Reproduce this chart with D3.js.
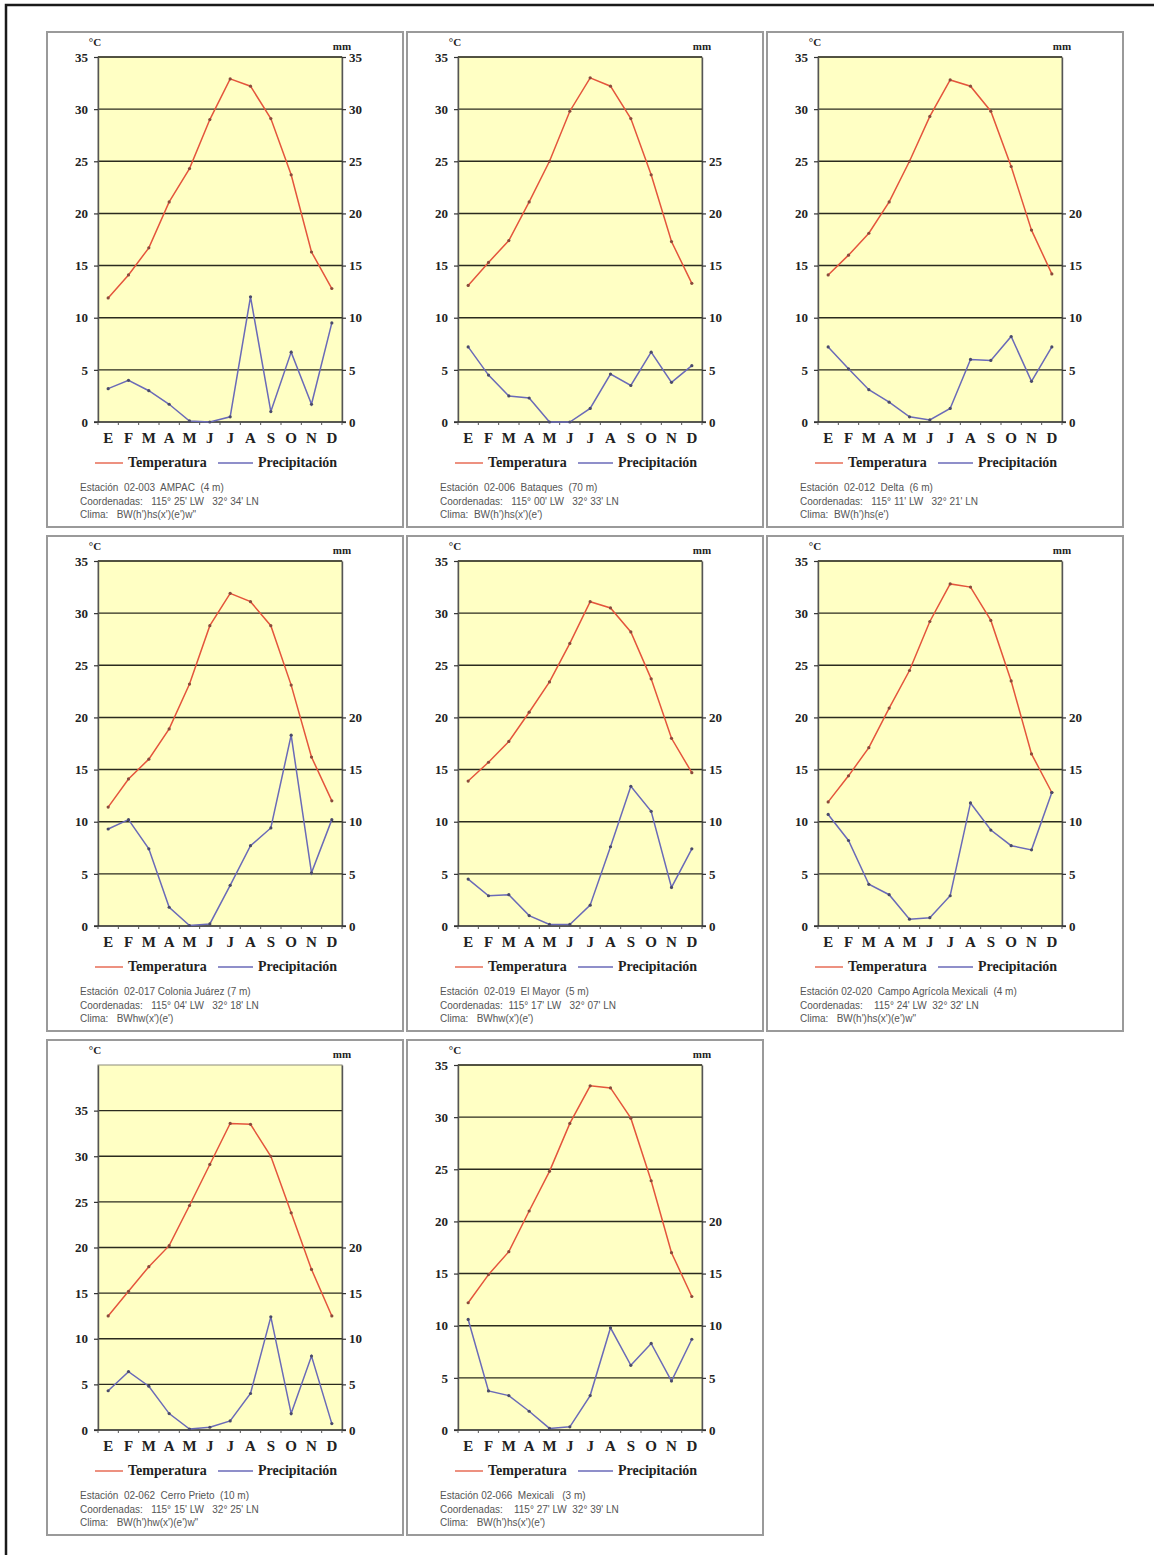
<!DOCTYPE html>
<html lang="es">
<head>
<meta charset="utf-8">
<title>Climogramas — estaciones del Valle de Mexicali</title>
<script src="https://cdn.jsdelivr.net/npm/d3@7"></script>
<style>
  html, body { margin: 0; padding: 0; background: #fff; }
  svg { display: block; }
  .num { font-family: "Liberation Serif", "DejaVu Serif", serif; font-weight: bold; font-size: 13px; fill: #222; }
  .month { font-family: "Liberation Serif", "DejaVu Serif", serif; font-weight: bold; font-size: 15px; fill: #222; }
  .legend { font-family: "Liberation Serif", "DejaVu Serif", serif; font-weight: bold; font-size: 14px; fill: #222; }
  .info { font-family: "Liberation Sans", Arial, sans-serif; font-size: 10px; fill: #555; white-space: pre; }
  .unit { font-family: "Liberation Serif", "DejaVu Serif", serif; font-weight: bold; font-size: 11px; fill: #222; }
</style>
</head>
<body>
<div id="chart"></div>
<script>
// Meses (abreviatura en español)
const months = ["E", "F", "M", "A", "M", "J", "J", "A", "S", "O", "N", "D"];

// Temperatura media mensual (°C)
const tempAmpac    = [11.9, 14.1, 16.7, 21.1, 24.3, 29.0, 32.9, 32.2, 29.1, 23.7, 16.3, 12.8];
const tempBataques = [13.1, 15.3, 17.4, 21.1, 25.0, 29.8, 33.0, 32.2, 29.1, 23.7, 17.3, 13.3];
const tempDelta    = [14.1, 16.0, 18.1, 21.1, 25.0, 29.3, 32.8, 32.2, 29.8, 24.5, 18.4, 14.2];
const tempColonia  = [11.4, 14.1, 16.0, 18.9, 23.2, 28.8, 31.9, 31.1, 28.8, 23.1, 16.2, 12.0];
const tempMayor    = [13.9, 15.7, 17.7, 20.5, 23.4, 27.1, 31.1, 30.5, 28.2, 23.7, 18.0, 14.7];
const tempCampo    = [11.9, 14.4, 17.1, 20.9, 24.5, 29.2, 32.8, 32.5, 29.3, 23.5, 16.5, 12.8];
const tempCerro    = [12.5, 15.2, 17.9, 20.2, 24.6, 29.1, 33.6, 33.5, 30.0, 23.8, 17.6, 12.5];
const tempMexicali = [12.2, 14.9, 17.1, 21.0, 24.8, 29.4, 33.0, 32.8, 29.9, 23.9, 17.0, 12.8];

// Precipitación media mensual (mm)
const precAmpac    = [3.2, 4.0, 3.0, 1.7, 0.1, 0.0, 0.5, 12.0, 1.0, 6.7, 1.7, 9.5];
const precBataques = [7.2, 4.5, 2.5, 2.3, 0.0, 0.0, 1.3, 4.6, 3.5, 6.7, 3.8, 5.4];
const precDelta    = [7.2, 5.1, 3.1, 1.9, 0.5, 0.2, 1.3, 6.0, 5.9, 8.2, 3.9, 7.2];
const precColonia  = [9.3, 10.2, 7.4, 1.8, 0.05, 0.2, 3.9, 7.7, 9.4, 18.3, 5.1, 10.2];
const precMayor    = [4.5, 2.9, 3.0, 1.0, 0.15, 0.15, 2.0, 7.6, 13.4, 11.0, 3.7, 7.4];
const precCampo    = [10.7, 8.2, 4.0, 3.0, 0.65, 0.8, 2.9, 11.8, 9.2, 7.7, 7.3, 12.8];
const precCerro    = [4.3, 6.4, 4.8, 1.8, 0.1, 0.3, 1.0, 4.0, 12.4, 1.8, 8.1, 0.7];
const precMexicali = [10.6, 3.75, 3.3, 1.8, 0.15, 0.3, 3.3, 9.8, 6.2, 8.3, 4.7, 8.7];

// Etiquetas de los ejes
const leftTicks   = [0, 5, 10, 15, 20, 25, 30, 35];
const rightAll    = [0, 5, 10, 15, 20, 25, 30, 35];
const rightTo25   = [0, 5, 10, 15, 20, 25];
const rightTo20   = [0, 5, 10, 15, 20];

// Descripción de cada estación
const stationLines = [
  ["Estación  02-003  AMPAC  (4 m)", "Coordenadas:   115° 25' LW   32° 34' LN", "Clima:   BW(h')hs(x')(e')w\""],
  ["Estación  02-006  Bataques  (70 m)", "Coordenadas:   115° 00' LW   32° 33' LN", "Clima:  BW(h')hs(x')(e')"],
  ["Estación  02-012  Delta  (6 m)", "Coordenadas:   115° 11' LW   32° 21' LN", "Clima:  BW(h')hs(e')"],
  ["Estación  02-017 Colonia Juárez (7 m)", "Coordenadas:   115° 04' LW   32° 18' LN", "Clima:   BWhw(x')(e')"],
  ["Estación  02-019  El Mayor  (5 m)", "Coordenadas:  115° 17' LW   32° 07' LN", "Clima:   BWhw(x')(e')"],
  ["Estación 02-020  Campo Agrícola Mexicali  (4 m)", "Coordenadas:    115° 24' LW  32° 32' LN", "Clima:   BW(h')hs(x')(e')w\""],
  ["Estación  02-062  Cerro Prieto  (10 m)", "Coordenadas:   115° 15' LW   32° 25' LN", "Clima:   BW(h')hw(x')(e')w\""],
  ["Estación 02-066  Mexicali   (3 m)", "Coordenadas:    115° 27' LW  32° 39' LN", "Clima:   BW(h')hs(x')(e')"]
];

const temps   = [tempAmpac, tempBataques, tempDelta, tempColonia, tempMayor, tempCampo, tempCerro, tempMexicali];
const precs   = [precAmpac, precBataques, precDelta, precColonia, precMayor, precCampo, precCerro, precMexicali];
const rights  = [rightAll, rightTo25, rightTo20, rightTo20, rightTo20, rightTo20, rightTo20, rightTo20];
const yMaxes  = [35, 35, 35, 35, 35, 35, 40, 35];

// ---- Layout ----
const W = 1154, H = 1555;
const colX = [47, 407, 767];
const rowY = [32, 536, 1040];
const frameW = 356, frameH = 495;
const plot = { x: 51, y: 25, w: 244, h: 365 };

const TEMP_COLOR = "#e4553c";
const PREC_COLOR = "#6a6ab8";

const svg = d3.select("#chart").append("svg")
  .attr("width", W).attr("height", H);

// page border (top and left)
svg.append("path")
  .attr("d", `M6,${H} V5 H${W}`)
  .attr("fill", "none").attr("stroke", "#1a1a1a").attr("stroke-width", 2.5);

const x = d3.scaleBand().domain(d3.range(12)).range([0, plot.w]);

temps.forEach((temp, i) => {
  const prec = precs[i];
  const gx = colX[i % 3], gy = rowY[Math.floor(i / 3)];
  const g = svg.append("g").attr("transform", `translate(${gx},${gy})`);

  // panel frame
  g.append("rect")
    .attr("x", 0).attr("y", 0).attr("width", frameW).attr("height", frameH)
    .attr("fill", "#fff").attr("stroke", "#9a9a9a").attr("stroke-width", 2);

  const p = g.append("g").attr("transform", `translate(${plot.x},${plot.y})`);
  const y = d3.scaleLinear().domain([0, yMaxes[i]]).range([plot.h, 0]);

  // plot area
  p.append("rect")
    .attr("width", plot.w).attr("height", plot.h)
    .attr("fill", "#ffffc4").attr("stroke", "#8c8c7a").attr("stroke-width", 1);

  // horizontal gridlines
  p.selectAll("line.grid").data(leftTicks.filter(v => v > 0)).join("line")
    .attr("class", "grid")
    .attr("x1", 0).attr("x2", plot.w)
    .attr("y1", d => y(d)).attr("y2", d => y(d))
    .attr("stroke", "#2b2b1e").attr("stroke-width", 1.4);

  // left axis (°C)
  const la = p.append("g").call(d3.axisLeft(y).tickValues(leftTicks).tickSize(4).tickSizeOuter(0).tickFormat(d3.format("d")));
  la.select(".domain").attr("stroke", "#555").attr("stroke-width", 1.4);
  la.selectAll(".tick line").attr("stroke", "#333").attr("stroke-width", 1.2);
  la.selectAll(".tick text").attr("class", "num").attr("x", -10).attr("font-family", null).attr("font-size", null);

  // right axis (mm) — same scale, fewer labels
  const ra = p.append("g").attr("transform", `translate(${plot.w},0)`)
    .call(d3.axisRight(y).tickValues(rights[i]).tickSize(4).tickSizeOuter(0).tickFormat(d3.format("d")));
  ra.select(".domain").attr("stroke", "#555").attr("stroke-width", 1.4);
  ra.selectAll(".tick line").attr("stroke", "#333").attr("stroke-width", 1.2);
  ra.selectAll(".tick text").attr("class", "num").attr("x", 7).attr("font-family", null).attr("font-size", null);

  // baseline with category ticks
  p.append("line")
    .attr("x1", -4).attr("x2", plot.w + 4)
    .attr("y1", plot.h).attr("y2", plot.h)
    .attr("stroke", "#333").attr("stroke-width", 1.6);
  p.selectAll("line.xt").data(d3.range(13)).join("line")
    .attr("class", "xt")
    .attr("x1", d => d * x.step()).attr("x2", d => d * x.step())
    .attr("y1", plot.h).attr("y2", plot.h + 3)
    .attr("stroke", "#555").attr("stroke-width", 1);

  // month labels
  p.selectAll("text.month").data(months).join("text")
    .attr("class", "month")
    .attr("x", (d, k) => x(k) + x.bandwidth() / 2)
    .attr("y", plot.h + 21)
    .attr("text-anchor", "middle")
    .text(d => d);

  const cx = (d, k) => x(k) + x.bandwidth() / 2;

  // temperature
  p.append("path").datum(temp)
    .attr("fill", "none").attr("stroke", TEMP_COLOR).attr("stroke-width", 1.5)
    .attr("d", d3.line().x(cx).y(d => y(d)));
  p.selectAll("circle.t").data(temp).join("circle")
    .attr("class", "t").attr("cx", cx).attr("cy", d => y(d)).attr("r", 1.6)
    .attr("fill", "#8a4a3c");

  // precipitation
  p.append("path").datum(prec)
    .attr("fill", "none").attr("stroke", PREC_COLOR).attr("stroke-width", 1.5)
    .attr("d", d3.line().x(cx).y(d => y(d)));
  p.selectAll("circle.p").data(prec).join("circle")
    .attr("class", "p").attr("cx", cx).attr("cy", d => y(d)).attr("r", 1.6)
    .attr("fill", "#4a4a6a");

  // axis units
  g.append("text").attr("class", "unit").attr("x", 48).attr("y", 14).attr("text-anchor", "middle").text("°C");
  g.append("text").attr("class", "unit").attr("x", plot.x + plot.w).attr("y", 18).attr("text-anchor", "middle").text("mm");

  // legend
  const ly = 431;
  g.append("line").attr("x1", 48).attr("x2", 76).attr("y1", ly).attr("y2", ly)
    .attr("stroke", TEMP_COLOR).attr("stroke-width", 1.3);
  g.append("text").attr("class", "legend").attr("x", 81).attr("y", ly + 4).text("Temperatura");
  g.append("line").attr("x1", 171).attr("x2", 206).attr("y1", ly).attr("y2", ly)
    .attr("stroke", PREC_COLOR).attr("stroke-width", 1.3);
  g.append("text").attr("class", "legend").attr("x", 211).attr("y", ly + 4).text("Precipitación");

  // station info
  g.selectAll("text.info").data(stationLines[i]).join("text")
    .attr("class", "info")
    .attr("x", 33)
    .attr("y", (d, k) => 459 + k * 13.5)
    .text(d => d);
});
</script>
</body>
</html>
